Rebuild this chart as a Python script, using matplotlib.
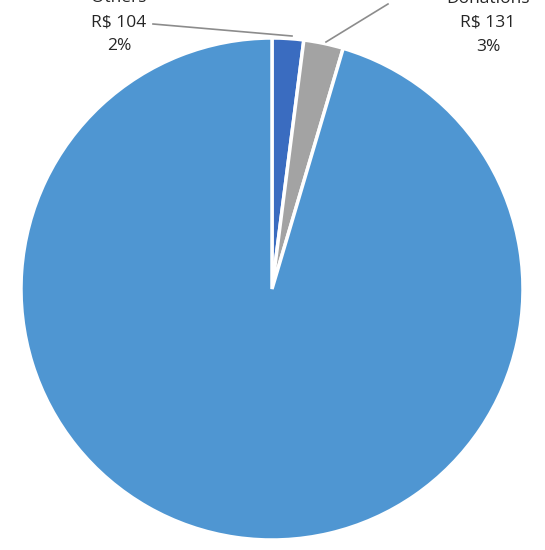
import matplotlib.pyplot as plt

# values (R$); main slice label is off-canvas, estimated
labels = ["Others", "Donations", "Main"]
values = [104, 131, 4900]
colors = ["#3a6cc0", "#a3a3a3", "#4f96d2"]

W, H = 545, 550
fig = plt.figure(figsize=(W / 100, H / 100), dpi=100)
ax = fig.add_axes([0, 0, 1, 1])

cx, cy, r = 272, H - 289, 251
ax.pie(values, colors=colors, startangle=90, counterclock=False,
       center=(cx, cy), radius=r, frame=True,
       wedgeprops=dict(edgecolor="white", linewidth=2.5))
ax.set_xlim(0, W)
ax.set_ylim(0, H)
ax.set_aspect("equal")
ax.axis("off")

total = sum(values)
pcts = [v / total * 100 for v in values]

def ypx(y):
    return H - y

# leader lines
ax.plot([153, 292], [ypx(24), ypx(36)], color="#8c8c8c", lw=1.2)
ax.plot([326, 388], [ypx(42), ypx(4)], color="#8c8c8c", lw=1.2)

# top label lines run off the canvas, as in the source image
font = dict(fontsize=12.5, family="Open Sans", color="#262626",
            ha="center", va="center", linespacing=1.65)
ax.text(119, ypx(22), f"{labels[0]}\nR$ {values[0]}\n{pcts[0]:.0f}%", **font)
ax.text(488, ypx(23), f"{labels[1]}\nR$ {values[1]}\n{pcts[1]:.0f}%", **font)

fig.savefig("out.png", dpi=100)
